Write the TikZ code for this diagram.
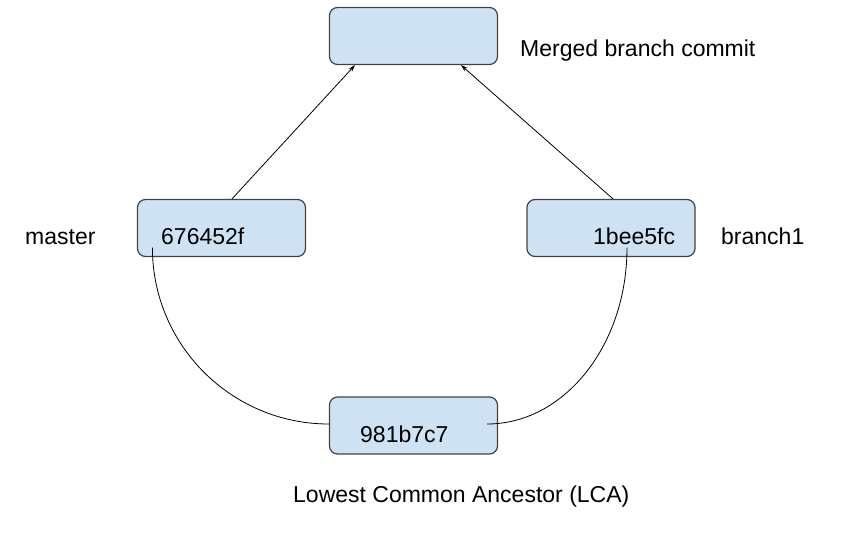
\documentclass[tikz,border=0pt]{standalone}
\usepackage{fontspec}
\setmainfont{Liberation Sans}
\usetikzlibrary{arrows.meta}

\definecolor{boxfill}{RGB}{207,226,243}
\definecolor{boxline}{RGB}{67,67,67}

\tikzset{
  commit/.style={draw=boxline, fill=boxfill, line width=1.2pt, rounded corners=8pt,
    minimum width=168pt, minimum height=57pt, inner sep=0pt},
  lbl/.style={anchor=base west, inner sep=0pt, font=\fontsize{23}{27}\selectfont},
  arr/.style={-{Stealth[length=7pt,width=4.5pt]}, line width=0.8pt},
  lnk/.style={line width=0.8pt}
}

\begin{document}
\begin{tikzpicture}[x=1pt, y=-1pt]

  \useasboundingbox (0,0) rectangle (857,533);

  % commits
  \node[commit] (merged) at (413.5,36) {};
  \node[commit] (master) at (221.5,228) {};
  \node[commit] (branch) at (611,228) {};
  \node[commit] (lca) at (413.5,425.5) {};

  % hashes inside the boxes
  \node[lbl] (mastersha) at (161,244) {676452f};
  \node[lbl] (branchsha) at (593,244) {1bee5fc};
  \node[lbl] (lcasha) at (360,442) {981b7c7};

  % labels beside the boxes
  \node[lbl] (mergedlbl) at (520,56) {Merged branch commit};
  \node[lbl] (masterlbl) at (25,244) {master};
  \node[lbl] (branchlbl) at (721,244) {branch1};
  \node[lbl] (lcalbl) at (293,502) {Lowest Common Ancestor (LCA)};

  % merge arrows
  \draw[arr] ([xshift=10.5pt]master.north) -- ([xshift=-58.5pt]merged.south);
  \draw[arr] ([xshift=2pt]branch.north) -- ([xshift=47.5pt]merged.south);

  % history back to the common ancestor
  \draw[lnk] ([xshift=15.5pt,yshift=9.5pt]master.south west)
    .. controls +(0,98) and +(-97,0) .. ([yshift=1.5pt]lca.west);
  \draw[lnk] ([xshift=16pt,yshift=9.5pt]branch.south)
    .. controls +(0,98) and +(77,0) .. ([xshift=-11pt,yshift=1.5pt]lca.east);

\end{tikzpicture}
\end{document}
